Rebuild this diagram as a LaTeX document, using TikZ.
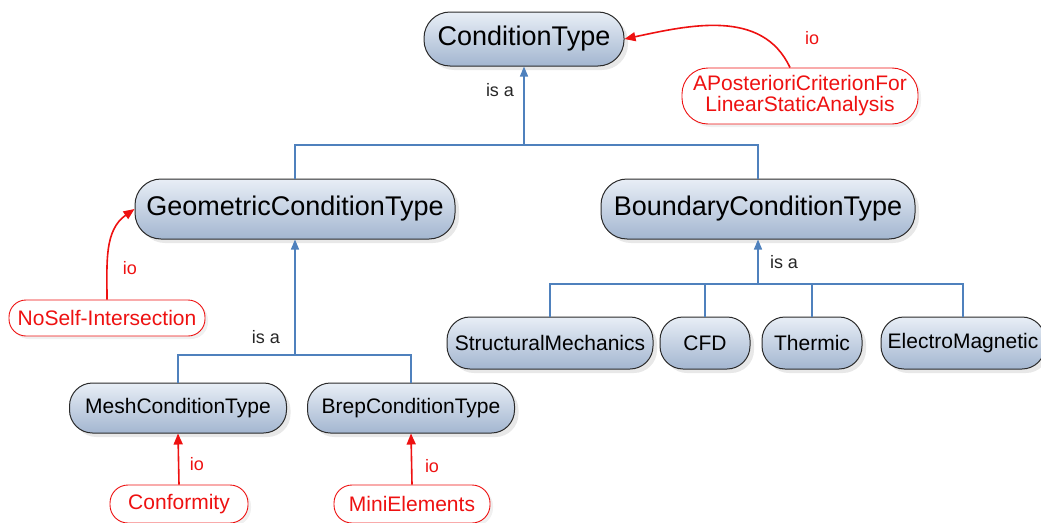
\documentclass[tikz,border=0pt]{standalone}
\usepackage{fontspec}
\setmainfont{Liberation Sans}
\usetikzlibrary{arrows.meta,shadows,calc}
\definecolor{lineblue}{HTML}{4F81BD}
\definecolor{boxtop}{HTML}{E8EEF6}
\definecolor{boxbot}{HTML}{A3B6D0}
\definecolor{boxedge}{HTML}{2A2A2A}
\definecolor{redline}{HTML}{EE1111}
\tikzset{
 cls/.style={draw=boxedge, line width=1pt, top color=boxtop, bottom color=boxbot, inner sep=0pt, align=center,
   drop shadow={shadow xshift=4pt, shadow yshift=-4pt, fill=black!30, opacity=.3}},
 bigcls/.style={cls, rounded corners=26pt, font=\fontsize{27}{30}\selectfont},
 smallcls/.style={cls, rounded corners=23pt, font=\fontsize{21}{24}\selectfont},
 inst/.style={draw=redline, fill=white, text=redline, line width=0.9pt, inner sep=0pt, align=center,
   font=\fontsize{21}{24}\selectfont,
   drop shadow={shadow xshift=3pt, shadow yshift=-3pt, fill=black!20, opacity=.3}},
 isa/.style={draw=lineblue, line width=1.4pt},
 isaarrow/.style={isa, -{Triangle[length=10pt,width=8pt]}},
 io/.style={draw=redline, line width=1.6pt, -{Triangle[length=11pt,width=9pt]}},
 lbl/.style={font=\fontsize{18}{20}\selectfont, text=black!85},
 iolbl/.style={font=\fontsize{18}{20}\selectfont, text=redline},
}
\begin{document}
\begin{tikzpicture}[x=1pt,y=1pt]
\useasboundingbox (0,0) rectangle (1041,-522);
% class nodes
\node[bigcls, minimum width=200pt, minimum height=54pt] (ct) at (524,-39) {ConditionType};
\node[bigcls, minimum width=320pt, minimum height=60pt] (geo) at (295,-209) {GeometricConditionType};
\node[bigcls, minimum width=314pt, minimum height=60pt] (bnd) at (758,-209) {BoundaryConditionType};
\node[smallcls, minimum width=206pt, minimum height=52pt] (sm) at (550,-343) {StructuralMechanics};
\node[smallcls, minimum width=90pt, minimum height=52pt] (cfd) at (705,-343) {CFD};
\node[smallcls, minimum width=100pt, minimum height=52pt] (th) at (812,-343) {Thermic};
\node[smallcls, minimum width=164pt, minimum height=52pt] (em) at (963,-343) {ElectroMagnetic};
\node[smallcls, minimum width=217pt, minimum height=50pt] (mesh) at (178,-408) {MeshConditionType};
\node[smallcls, minimum width=207pt, minimum height=50pt] (brep) at (411,-408) {BrepConditionType};
% instance nodes
\node[inst, rounded corners=26pt, minimum width=236pt, minimum height=56pt] (ap) at (800,-96) {APosterioriCriterionFor\\[-3pt]LinearStaticAnalysis};
\node[inst, rounded corners=17pt, minimum width=196pt, minimum height=36pt] (nsi) at (107,-318) {NoSelf-Intersection};
\node[inst, rounded corners=18pt, minimum width=138pt, minimum height=38pt] (conf) at (179,-504) {Conformity};
\node[inst, rounded corners=18pt, minimum width=156pt, minimum height=38pt] (mini) at (412,-504) {MiniElements};
% is-a connectors
\coordinate (j1) at (ct.south |- 0,-145);
\draw[isa] (geo.north) |- (j1);
\draw[isa] (bnd.north) |- (j1);
\draw[isaarrow] (j1) -- (ct.south);
\node[lbl] (l1) at (500,-90) {is a};

\coordinate (j2) at (geo.south |- 0,-355);
\draw[isa] (mesh.north) |- (j2);
\draw[isa] (brep.north) |- (j2);
\draw[isaarrow] (j2) -- (geo.south);
\node[lbl] (l2) at (266,-337) {is a};

\coordinate (j3) at (bnd.south |- 0,-284);
\draw[isa] (sm.north) |- (j3);
\draw[isa] (cfd.north) |- (j3);
\draw[isa] (th.north) |- (j3);
\draw[isa] (em.north) |- (j3);
\draw[isaarrow] (j3) -- (bnd.south);
\node[lbl] (l3) at (784,-262) {is a};

% io connectors
\draw[io] ($(ap.north)+(-10,0)$) to[out=115, in=12] (ct.east);
\node[iolbl] (i1) at (812,-38) {io};
\draw[io] (nsi.north) to[out=90, in=215] (geo.west);
\node[iolbl] (i2) at (130,-268) {io};
\draw[io] (conf.north) -- (mesh.south);
\node[iolbl] (i3) at (197,-464) {io};
\draw[io] (mini.north) -- (brep.south);
\node[iolbl] (i4) at (432,-466) {io};
\end{tikzpicture}
\end{document}
